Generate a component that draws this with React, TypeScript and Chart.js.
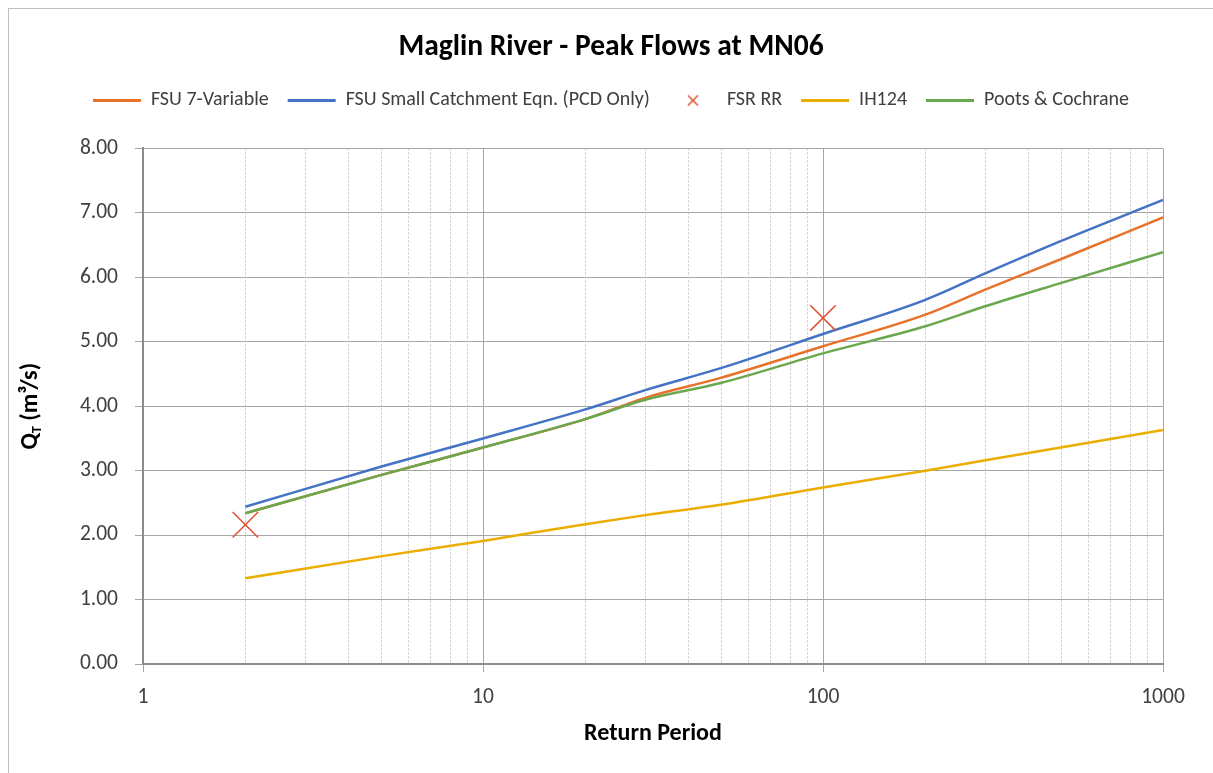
import React, { useEffect, useRef } from 'react';
import { Chart, registerables } from 'chart.js';

Chart.register(...registerables);

// ---- Data ----
const RETURN_PERIODS = [2, 5, 10, 20, 30, 50, 100, 200, 300, 500, 1000];
const FSU_7_VARIABLE = [2.34, 2.93, 3.36, 3.8, 4.13, 4.44, 4.93, 5.42, 5.81, 6.28, 6.93];
const FSU_SMALL_CATCHMENT = [2.44, 3.06, 3.5, 3.95, 4.25, 4.59, 5.12, 5.65, 6.06, 6.56, 7.2];
const IH124 = [1.33, 1.67, 1.91, 2.17, 2.31, 2.47, 2.74, 3.0, 3.16, 3.36, 3.63];
const POOTS_COCHRANE = [2.34, 2.93, 3.36, 3.8, 4.1, 4.36, 4.82, 5.24, 5.55, 5.91, 6.39];
const FSR_RR_T = [2, 100];
const FSR_RR_Q = [2.16, 5.37];

const X_MAJOR_TICKS = [1, 10, 100, 1000];
const X_MINOR_MULTIPLIERS = [2, 3, 4, 5, 6, 7, 8, 9];
const X_DECADES = [1, 10, 100];

const TITLE = 'Maglin River - Peak Flows at MN06';
const X_TITLE = 'Return Period';
const Y_TITLE_MAIN = 'Q';
const Y_TITLE_SUB = 'T';
const Y_TITLE_REST = ' (m³/s)';

const FONT = 'Carlito, Calibri, Lato, sans-serif';
const TEXT_COLOR = '#404040';
const CROSS_COLOR = '#E0502F';

const toPoints = (xs: number[], ys: number[]) => xs.map((x, i) => ({ x, y: ys[i] }));

const makeLegendCross = () => {
  const c = document.createElement('canvas');
  c.width = 14;
  c.height = 14;
  const g = c.getContext('2d');
  if (g) {
    g.strokeStyle = CROSS_COLOR;
    g.lineWidth = 1.5;
    g.beginPath();
    g.moveTo(2, 2);
    g.lineTo(12, 12);
    g.moveTo(12, 2);
    g.lineTo(2, 12);
    g.stroke();
  }
  return c;
};

const minorGridPlugin = {
  id: 'minorGrid',
  beforeDatasetsDraw(chart: any) {
    const { ctx, chartArea } = chart;
    const xs = chart.scales.x;
    ctx.save();
    ctx.strokeStyle = '#c4c4c4';
    ctx.lineWidth = 1;
    ctx.setLineDash([2, 2]);
    X_DECADES.forEach((d) => {
      X_MINOR_MULTIPLIERS.forEach((m) => {
        const px = Math.round(xs.getPixelForValue(d * m)) + 0.5;
        ctx.beginPath();
        ctx.moveTo(px, chartArea.top);
        ctx.lineTo(px, chartArea.bottom);
        ctx.stroke();
      });
    });
    ctx.restore();
  },
};

const yTitlePlugin = {
  id: 'yTitle',
  afterDraw(chart: any) {
    const { ctx, chartArea } = chart;
    const cy = (chartArea.top + chartArea.bottom) / 2;
    const cx = 22;
    ctx.save();
    ctx.translate(cx, cy);
    ctx.rotate(-Math.PI / 2);
    ctx.fillStyle = '#000000';
    ctx.textBaseline = 'middle';
    ctx.textAlign = 'left';
    const mainFont = `bold 24px ${FONT}`;
    const subFont = `bold 14px ${FONT}`;
    ctx.font = mainFont;
    const wQ = ctx.measureText(Y_TITLE_MAIN).width;
    const wRest = ctx.measureText(Y_TITLE_REST).width;
    ctx.font = subFont;
    const wT = ctx.measureText(Y_TITLE_SUB).width;
    const total = wQ + wT + wRest;
    let x = -total / 2;
    ctx.font = mainFont;
    ctx.fillText(Y_TITLE_MAIN, x, 0);
    x += wQ;
    ctx.font = subFont;
    ctx.fillText(Y_TITLE_SUB, x, 6);
    x += wT;
    ctx.font = mainFont;
    ctx.fillText(Y_TITLE_REST, x, 0);
    ctx.restore();
  },
};

const LEGEND_EXTRA = 28;
const legendSpacerPlugin = {
  id: 'legendSpacer',
  afterInit(chart: any) {
    const legend = chart.legend;
    if (!legend) return;
    const orig = legend.fit;
    legend.fit = function () {
      orig.call(this);
      this.height += LEGEND_EXTRA;
    };
  },
};

export default function App() {
  const ref = useRef<HTMLCanvasElement | null>(null);

  useEffect(() => {
    if (!ref.current) return;
    const legendCross = makeLegendCross();
    const lineCommon = {
      pointRadius: 0,
      pointHoverRadius: 0,
      borderWidth: 2.5,
      cubicInterpolationMode: 'monotone' as const,
      fill: false,
    };
    const chart = new Chart(ref.current, {
      type: 'line',
      data: {
        datasets: [
          {
            ...lineCommon,
            label: 'FSU 7-Variable',
            data: toPoints(RETURN_PERIODS, FSU_7_VARIABLE),
            borderColor: '#E8722C',
            backgroundColor: '#E8722C',
            order: 2,
          },
          {
            ...lineCommon,
            label: 'FSU Small Catchment Eqn. (PCD Only)',
            data: toPoints(RETURN_PERIODS, FSU_SMALL_CATCHMENT),
            borderColor: '#4472C4',
            backgroundColor: '#4472C4',
            order: 1,
          },
          {
            label: 'FSR RR',
            data: toPoints(FSR_RR_T, FSR_RR_Q),
            showLine: false,
            pointStyle: 'crossRot',
            pointRadius: 18,
            pointHoverRadius: 18,
            pointBorderWidth: 1.5,
            pointBorderColor: CROSS_COLOR,
            borderColor: CROSS_COLOR,
            backgroundColor: CROSS_COLOR,
            order: 0,
          },
          {
            ...lineCommon,
            label: 'IH124',
            data: toPoints(RETURN_PERIODS, IH124),
            borderColor: '#EBAD00',
            backgroundColor: '#EBAD00',
            order: 3,
          },
          {
            ...lineCommon,
            label: 'Poots & Cochrane',
            data: toPoints(RETURN_PERIODS, POOTS_COCHRANE),
            borderColor: '#6AA84F',
            backgroundColor: '#6AA84F',
            order: 1.5,
          },
        ],
      },
      options: {
        animation: false,
        responsive: false,
        events: [],
        layout: { padding: { left: 0, right: 0, top: 0, bottom: 0 } },
        plugins: {
          title: {
            display: true,
            text: TITLE,
            color: '#000000',
            font: { family: FONT, size: 29.5, weight: 'bold' },
            padding: { top: 21, bottom: 6 },
          },
          legend: {
            display: true,
            position: 'top',
            labels: {
              usePointStyle: true,
              pointStyleWidth: 48,
              boxHeight: 10,
              padding: 19,
              color: TEXT_COLOR,
              font: { family: FONT, size: 20 },
              generateLabels: (c: any) =>
                c.data.datasets.map((ds: any, i: number) => ({
                  text: ds.label,
                  fillStyle: 'transparent',
                  strokeStyle: ds.borderColor,
                  lineWidth: ds.showLine === false ? 1.5 : 3,
                  pointStyle: ds.showLine === false ? legendCross : 'line',
                  hidden: false,
                  datasetIndex: i,
                  fontColor: TEXT_COLOR,
                })),
            },
          },
          tooltip: { enabled: false },
        },
        scales: {
          x: {
            type: 'logarithmic',
            min: 1,
            max: 1000,
            afterBuildTicks: (s: any) => {
              s.ticks = X_MAJOR_TICKS.map((v) => ({ value: v, major: true }));
            },
            afterFit: (s: any) => {
              s.height = 109;
            },
            ticks: {
              color: TEXT_COLOR,
              font: { family: FONT, size: 21.5 },
              padding: 13,
              maxRotation: 0,
              autoSkip: false,
              callback: (v: any) => String(v),
            },
            grid: { color: '#a6a6a6', lineWidth: 1, tickLength: 8, drawTicks: true },
            border: { color: '#8c8c8c', width: 2 },
            title: {
              display: true,
              text: X_TITLE,
              color: '#000000',
              font: { family: FONT, size: 24, weight: 'bold' },
              padding: { top: 0, bottom: 25 },
            },
          },
          y: {
            type: 'linear',
            min: 0,
            max: 8,
            afterFit: (s: any) => {
              s.width = 134;
            },
            ticks: {
              stepSize: 1,
              color: TEXT_COLOR,
              font: { family: FONT, size: 21.5 },
              padding: 17,
              callback: (v: any) => Number(v).toFixed(2),
            },
            grid: { color: '#a6a6a6', lineWidth: 1, tickLength: 8, drawTicks: true },
            border: { color: '#8c8c8c', width: 2 },
            title: { display: false },
          },
          yRightSpace: {
            type: 'linear',
            position: 'right',
            display: true,
            min: 0,
            max: 8,
            afterFit: (s: any) => {
              s.width = 50;
            },
            ticks: { display: false },
            grid: { display: false, drawOnChartArea: false, drawTicks: false },
            border: { display: false },
            title: { display: false },
          },
        },
      },
      plugins: [minorGridPlugin, yTitlePlugin, legendSpacerPlugin],
    } as any);
    return () => chart.destroy();
  }, []);

  return (
    <div
      style={{
        position: 'absolute',
        left: 8,
        top: 8,
        width: 1205,
        height: 765,
        boxSizing: 'border-box',
        borderLeft: '1px solid #bfbfbf',
        borderTop: '1px solid #bfbfbf',
        background: '#ffffff',
        overflow: 'hidden',
      }}
    >
      <canvas ref={ref} width={1204} height={764} style={{ display: 'block' }} />
    </div>
  );
}
